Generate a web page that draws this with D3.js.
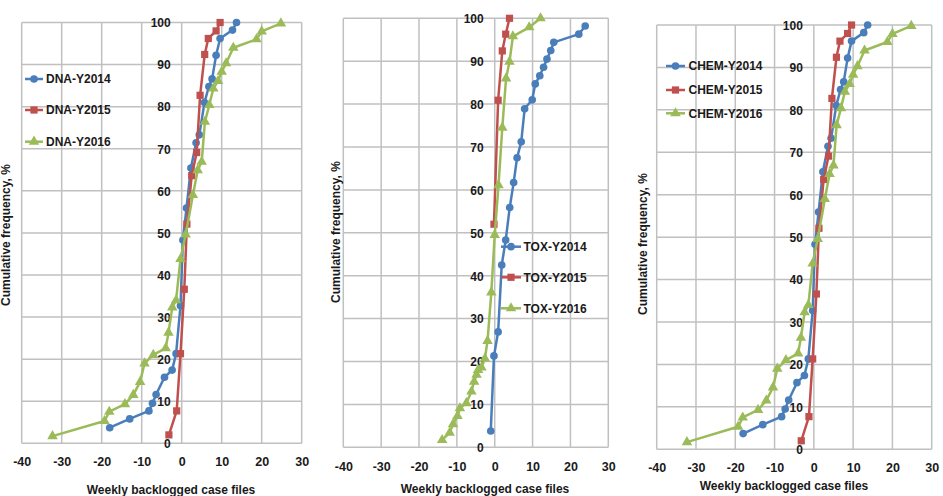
<!DOCTYPE html>
<html><head><meta charset="utf-8">
<script src="https://cdn.jsdelivr.net/npm/d3@7"></script>
<style>
html,body{margin:0;padding:0;background:#fff;}
svg{display:block;}
text{font-family:"Liberation Sans",Arial,sans-serif;font-weight:bold;fill:#1a1a1a;}
</style></head>
<body>
<svg id="chart" width="943" height="496"></svg>
<script>
// ---------- data ----------
const xTicks = [-40, -30, -20, -10, 0, 10, 20, 30];
const yTicks = [0, 10, 20, 30, 40, 50, 60, 70, 80, 90, 100];
const xTitle = "Weekly backlogged case files";
const yTitle = "Cumulative frequency, %";

const dnaNames = ["DNA-Y2014", "DNA-Y2015", "DNA-Y2016"];
const dna2014X = [-18, -13, -8.2, -7.3, -6.4, -4.3, -2.4, -1.4, -0.3, 0.3, 1.2, 2.3, 3.6, 4.4, 5.7, 6.8, 7.6, 8.6, 9.6, 12.7, 13.7];
const dna2014Y = [3.7, 5.8, 7.7, 9.5, 11.6, 15.7, 17.4, 21.3, 32.7, 48.3, 55.9, 65.4, 71.4, 73.3, 81, 84.8, 86.6, 92.2, 96.2, 98.2, 100];
const dna2015X = [-3.2, -1.25, -0.3, 0.65, 1.3, 2.5, 3.75, 4.6, 5.75, 6.65, 8.6, 9.6];
const dna2015Y = [2.0, 7.7, 21.3, 36.6, 52.1, 63.6, 69.1, 82.7, 92.4, 96.2, 98, 100];
const dna2016X = [-32.3, -19.3, -18.1, -14.2, -12.1, -10.4, -9.3, -7.1, -4, -3.3, -2.35, -1.4, -0.3, 1.0, 2.8, 4, 5, 5.8, 6.9, 7.9, 9.1, 10, 11.1, 12.9, 18.7, 20, 24.8];
const dna2016Y = [1.7, 5.3, 7.5, 9.3, 11.5, 14.6, 19, 21, 22.6, 26.3, 32.3, 34, 43.8, 49.6, 59, 64.9, 66.9, 76.4, 80.4, 84.3, 86.1, 88.3, 90.3, 94, 96, 97.9, 99.8];

const toxNames = ["TOX-Y2014", "TOX-Y2015", "TOX-Y2016"];
const tox2014X = [-1.05, -0.2, 0.9, 1.85, 2.9, 3.96, 5, 5.9, 7, 7.9, 9.9, 10.7, 11.9, 12.9, 13.8, 14.8, 15.6, 22.2, 23.9];
const tox2014Y = [3.8, 21.3, 26.9, 42.5, 48.3, 55.9, 61.7, 67.5, 71.2, 78.9, 81, 84.7, 86.6, 88.6, 90.5, 92.5, 94.4, 96.3, 98.2];
const tox2015X = [-0.2, 0.9, 2, 2.9, 3.9];
const tox2015Y = [52, 80.9, 92.4, 96.3, 100];
const tox2016X = [-13.9, -11.9, -11, -9.85, -9.2, -7.5, -6.15, -5.45, -4.8, -4.4, -3.5, -2.6, -1.9, -0.9, 0, 1, 2, 3, 3.9, 4.8, 9.1, 12.1];
const tox2016Y = [1.7, 3.4, 5.4, 7.3, 9.1, 10.3, 13, 15.3, 16.9, 18, 18.6, 20.7, 24.8, 36.1, 49.5, 61.1, 74.5, 86, 89.9, 95.8, 97.9, 100];

const chemNames = ["CHEM-Y2014", "CHEM-Y2015", "CHEM-Y2016"];
const chem2014X = [-18, -13, -8.2, -7.3, -6.4, -4.3, -2.4, -1.4, -0.3, 0.3, 1.2, 2.3, 3.6, 4.4, 5.7, 6.8, 7.6, 8.6, 9.6, 12.7, 13.7];
const chem2014Y = [3.7, 5.8, 7.7, 9.5, 11.6, 15.7, 17.4, 21.3, 32.7, 48.3, 55.9, 65.4, 71.4, 73.3, 81, 84.8, 86.6, 92.2, 96.2, 98.2, 100];
const chem2015X = [-3.2, -1.25, -0.3, 0.65, 1.3, 2.5, 3.75, 4.6, 5.75, 6.65, 8.6, 9.6];
const chem2015Y = [2.0, 7.7, 21.3, 36.6, 52.1, 63.6, 69.1, 82.7, 92.4, 96.2, 98, 100];
const chem2016X = [-32.3, -19.3, -18.1, -14.2, -12.1, -10.4, -9.3, -7.1, -4, -3.3, -2.35, -1.4, -0.3, 1.0, 2.8, 4, 5, 5.8, 6.9, 7.9, 9.1, 10, 11.1, 12.9, 18.7, 20, 24.8];
const chem2016Y = [1.7, 5.3, 7.5, 9.3, 11.5, 14.6, 19, 21, 22.6, 26.3, 32.3, 34, 43.8, 49.6, 59, 64.9, 66.9, 76.4, 80.4, 84.3, 86.1, 88.3, 90.3, 94, 96, 97.9, 99.8];

// ---------- styles / layout ----------
const colors = ["#4a7ebb", "#c0504d", "#9bbb59"];
const shapes = [d3.symbolCircle, d3.symbolSquare, d3.symbolTriangle];
const symSize = [46, 52, 48];

const panels = [
  { names: dnaNames, xs: [dna2014X, dna2015X, dna2016X], ys: [dna2014Y, dna2015Y, dna2016Y],
    x0: 21.7, x1: 301.7, yTop: 22.5, yBot: 443.3, xLabY: 466, xTitleX: 171, xTitleY: 493.5,
    yTitleX: 6, yTitleY: 235,
    leg: { x0: 25, x1: 43, tx: 46, ys: [79, 110, 141.7] } },
  { names: toxNames, xs: [tox2014X, tox2015X, tox2016X], ys: [tox2014Y, tox2015Y, tox2016Y],
    x0: 343.3, x1: 608.3, yTop: 18.3, yBot: 447.3, xLabY: 471, xTitleX: 485, xTitleY: 493,
    yTitleX: 336, yTitleY: 232,
    leg: { x0: 501, x1: 521, tx: 523.5, ys: [246.7, 277.3, 308.3] } },
  { names: chemNames, xs: [chem2014X, chem2015X, chem2016X], ys: [chem2014Y, chem2015Y, chem2016Y],
    x0: 656.7, x1: 931.7, yTop: 25, yBot: 449.3, xLabY: 472, xTitleX: 784, xTitleY: 489.5,
    yTitleX: 643, yTitleY: 244,
    leg: { x0: 666, x1: 685, tx: 688.5, ys: [66, 90, 113.3] } }
];

const svg = d3.select("#chart");
const fmt = d => String(d);

panels.forEach(p => {
  const x = d3.scaleLinear().domain([-40, 30]).range([p.x0, p.x1]);
  const y = d3.scaleLinear().domain([0, 100]).range([p.yBot, p.yTop]);
  const g = svg.append("g");

  // gridlines
  g.append("g").selectAll("line").data(xTicks).join("line")
    .attr("x1", d => x(d)).attr("x2", d => x(d))
    .attr("y1", y(0)).attr("y2", y(100))
    .attr("stroke", "#c0c0c0").attr("stroke-width", 1.5);
  g.append("g").selectAll("line").data(yTicks).join("line")
    .attr("x1", x(-40)).attr("x2", x(30))
    .attr("y1", d => y(d)).attr("y2", d => y(d))
    .attr("stroke", "#c0c0c0").attr("stroke-width", 1.5);

  // x axis tick labels (below the plot)
  const xAxis = d3.axisBottom(x).tickValues(xTicks).tickSize(0).tickFormat(fmt);
  const xa = g.append("g").attr("transform", `translate(0,${p.xLabY - 11})`).call(xAxis);
  xa.select(".domain").remove();
  xa.selectAll("text").attr("font-size", 12.5).attr("font-family", null).attr("fill", "#1a1a1a")
    .attr("dy", null).attr("y", 11);

  // y axis tick labels (axis crosses at x = 0)
  const yAxis = d3.axisLeft(y).tickValues(yTicks).tickSize(0).tickFormat(fmt);
  const ya = g.append("g").attr("transform", `translate(${x(0) - 11},0)`).call(yAxis);
  ya.select(".domain").remove();
  ya.selectAll("text").attr("font-size", 12).attr("font-family", null).attr("fill", "#1a1a1a")
    .attr("x", 0).attr("dy", "0.36em");

  // series
  const line = d3.line().x(d => x(d[0])).y(d => y(d[1]));
  p.names.forEach((name, i) => {
    const pts = p.xs[i].map((v, k) => [v, p.ys[i][k]]);
    g.append("path").datum(pts).attr("d", line)
      .attr("fill", "none").attr("stroke", colors[i]).attr("stroke-width", 2.5)
      .attr("stroke-linejoin", "round");
    g.append("g").selectAll("path").data(pts).join("path")
      .attr("transform", d => `translate(${x(d[0])},${y(d[1])})`)
      .attr("d", d3.symbol().type(shapes[i]).size(symSize[i]))
      .attr("fill", colors[i]);
  });

  // legend
  p.names.forEach((name, i) => {
    const ly = p.leg.ys[i];
    const lg = g.append("g");
    lg.append("line").attr("x1", p.leg.x0).attr("x2", p.leg.x1).attr("y1", ly).attr("y2", ly)
      .attr("stroke", colors[i]).attr("stroke-width", 2.5);
    lg.append("path").attr("transform", `translate(${(p.leg.x0 + p.leg.x1) / 2},${ly})`)
      .attr("d", d3.symbol().type(shapes[i]).size(symSize[i])).attr("fill", colors[i]);
    lg.append("text").attr("x", p.leg.tx).attr("y", ly).attr("dy", "0.36em")
      .attr("font-size", 12).text(name);
  });

  // axis titles
  g.append("text").attr("x", p.xTitleX).attr("y", p.xTitleY).attr("text-anchor", "middle")
    .attr("font-size", 12).text(xTitle);
  g.append("text").attr("transform", `translate(${p.yTitleX},${p.yTitleY}) rotate(-90)`)
    .attr("text-anchor", "middle").attr("dy", "0.36em").attr("font-size", 12).text(yTitle);
});
</script>
</body></html>
